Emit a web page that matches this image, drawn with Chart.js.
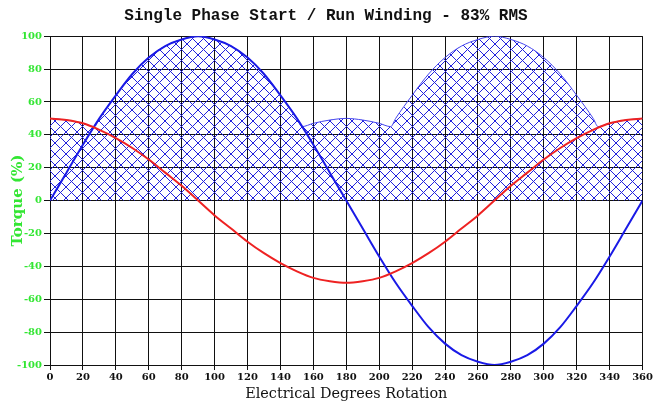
<!DOCTYPE html>
<html>
<head>
<meta charset="utf-8">
<script src="https://cdn.jsdelivr.net/npm/chart.js@4"></script>
<style>
  body { margin: 0; background: #fff; }
  #wrap { width: 654px; height: 403px; }
</style>
</head>
<body>
<div id="wrap"><canvas id="torqueChart" width="654" height="403"></canvas></div>
<script>
// Degrees (every 10) and the two winding curves
const degrees = [0, 10, 20, 30, 40, 50, 60, 70, 80, 90, 100, 110, 120, 130, 140, 150, 160, 170, 180,
    190, 200, 210, 220, 230, 240, 250, 260, 270, 280, 290, 300, 310, 320, 330, 340, 350, 360];
const startWinding = [0, 17, 34, 50, 64, 77, 87, 94, 98, 100, 98, 94, 87, 77, 64, 50, 34, 17, 0,
    -17, -34, -50, -64, -77, -87, -94, -98, -100, -98, -94, -87, -77, -64, -50, -34, -17, 0];
const runWinding = [50, 49, 47, 43, 38, 32, 25, 17, 9, 0, -9, -17, -25, -32, -38, -43, -47, -49, -50,
    -49, -47, -43, -38, -32, -25, -17, -9, 0, 9, 17, 25, 32, 38, 43, 47, 49, 50];

// Upper edge of the hatched (combined torque) area
const envDegrees = [0, 10, 20, 27, 30, 40, 50, 60, 70, 80, 90, 100, 110, 120, 130, 140, 150, 153,
    160, 170, 180, 190, 200, 207, 210, 220, 230, 240, 250, 260, 270, 280, 290, 300, 310, 320, 330, 333,
    340, 350, 360];
const envTorque = [50, 49, 47, 45, 50, 64, 77, 87, 94, 98, 100, 98, 94, 87, 77, 64, 50, 45,
    47, 49, 50, 49, 47, 45, 50, 64, 77, 87, 94, 98, 100, 98, 94, 87, 77, 64, 50, 45,
    47, 49, 50];

const tickLabelsX = [0, 20, 40, 60, 80, 100, 120, 140, 160, 180, 200, 220, 240, 260, 280, 300, 320, 340, 360];
const tickLabelsY = [-100, -80, -60, -40, -20, 0, 20, 40, 60, 80, 100];

const toPoints = (xs, ys) => xs.map((x, i) => ({ x: x, y: ys[i] }));

const ctx = document.getElementById('torqueChart').getContext('2d');

// cross hatch pattern
function makeHatch() {
    const tile = document.createElement('canvas');
    tile.width = 11;
    tile.height = 11;
    const g = tile.getContext('2d');
    g.strokeStyle = '#2222dd';
    g.lineWidth = 1;
    g.beginPath();
    g.moveTo(0, 0);
    g.lineTo(11, 11);
    g.moveTo(11, 0);
    g.lineTo(0, 11);
    g.stroke();
    return ctx.createPattern(tile, 'repeat');
}

const green = '#33e633';
const serif = 'DejaVu Serif';
const mono = 'Liberation Mono';

new Chart(ctx, {
    type: 'line',
    data: {
        datasets: [
            {
                label: 'Run',
                data: toPoints(degrees, runWinding),
                borderColor: '#ee2222',
                borderWidth: 2,
                pointRadius: 0,
                cubicInterpolationMode: 'monotone',
                fill: false
            },
            {
                label: 'Start',
                data: toPoints(degrees, startWinding),
                borderColor: '#1a1ae6',
                borderWidth: 2,
                pointRadius: 0,
                cubicInterpolationMode: 'monotone',
                fill: false
            },
            {
                label: 'Total',
                data: toPoints(envDegrees, envTorque),
                borderColor: '#4444ee',
                borderWidth: 1,
                backgroundColor: makeHatch(),
                pointRadius: 0,
                cubicInterpolationMode: 'monotone',
                fill: 'origin'
            }
        ]
    },
    options: {
        responsive: false,
        animation: false,
        layout: {
            padding: { right: 11, left: 9, top: 0, bottom: 0 }
        },
        plugins: {
            legend: { display: false },
            tooltip: { enabled: false },
            title: {
                display: true,
                text: 'Single Phase Start / Run Winding - 83% RMS',
                color: '#111',
                font: { family: mono, size: 16, weight: 'bold' },
                padding: { top: 6, bottom: 11 }
            }
        },
        scales: {
            x: {
                type: 'linear',
                min: 0,
                max: 360,
                afterBuildTicks: (s) => { s.ticks = tickLabelsX.map(v => ({ value: v })); },
                afterFit: (s) => { s.height = 38; },
                ticks: {
                    color: '#111',
                    font: { family: serif, size: 10, weight: 'bold' },
                    padding: 1,
                    maxRotation: 0,
                    autoSkip: false
                },
                grid: { color: '#111', lineWidth: 1, tickLength: 5 },
                border: { color: '#111', width: 1 },
                title: {
                    display: true,
                    text: 'Electrical Degrees Rotation',
                    color: '#111',
                    font: { family: serif, size: 14.4, weight: 'normal' },
                    padding: { top: 0, bottom: 0 }
                }
            },
            y: {
                min: -100,
                max: 100,
                afterBuildTicks: (s) => { s.ticks = tickLabelsY.map(v => ({ value: v })); },
                afterFit: (s) => { s.width = 41; },
                ticks: {
                    color: green,
                    font: { family: serif, size: 10, weight: 'bold' },
                    padding: 2,
                    autoSkip: false
                },
                grid: { color: '#111', lineWidth: 1, tickLength: 6 },
                border: { color: '#111', width: 1 },
                title: {
                    display: true,
                    text: 'Torque (%)',
                    color: green,
                    font: { family: serif, size: 15, weight: 'bold' },
                    padding: { top: 0, bottom: 0 }
                }
            }
        }
    }
});
</script>
</body>
</html>
